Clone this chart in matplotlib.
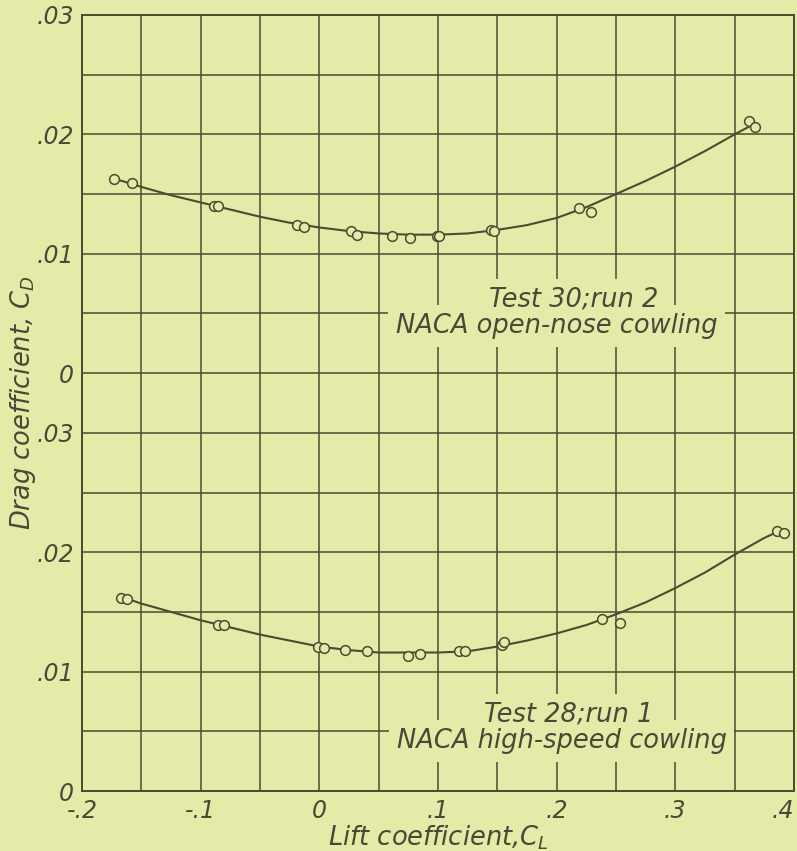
import matplotlib
matplotlib.use("Agg")
import matplotlib.pyplot as plt
import numpy as np

plt.rcParams['font.family'] = ['DejaVu Sans']
plt.rcParams['mathtext.fontset'] = 'dejavusans'

# ---------------- data ----------------
# Test 30; run 2  NACA open-nose cowling (upper panel)
top_cl = [-0.173, -0.158, -0.089, -0.085, -0.019, -0.013, 0.027, 0.032, 0.061,
          0.076, 0.099, 0.101, 0.145, 0.147, 0.219, 0.229, 0.362, 0.367]
top_cd = [0.0163, 0.0159, 0.0140, 0.0140, 0.0124, 0.0122, 0.0119, 0.0116, 0.0115,
          0.0113, 0.0115, 0.0115, 0.0120, 0.0119, 0.0138, 0.0135, 0.0211, 0.0206]
# faired curve
top_curve_cl = [-0.173, -0.15, -0.125, -0.10, -0.075, -0.05, -0.025, 0.0, 0.025, 0.05,
                0.075, 0.10, 0.125, 0.15, 0.175, 0.20, 0.225, 0.25, 0.275, 0.30,
                0.325, 0.35, 0.365]
top_curve_cd = [0.0163, 0.0156, 0.0149, 0.0143, 0.0137, 0.0131, 0.0126, 0.0122, 0.0119, 0.0117,
                0.0116, 0.0116, 0.0117, 0.0120, 0.0124, 0.0130, 0.0139, 0.0150, 0.0161, 0.0173,
                0.0186, 0.0200, 0.0208]

# Test 28; run 1  NACA high-speed cowling (lower panel)
bot_cl = [-0.167, -0.162, -0.085, -0.080, -0.001, 0.004, 0.022, 0.040, 0.075,
          0.085, 0.118, 0.123, 0.154, 0.156, 0.238, 0.253, 0.386, 0.392]
bot_cd = [0.0162, 0.0161, 0.0139, 0.0139, 0.0121, 0.0120, 0.0118, 0.0117, 0.0113,
          0.0115, 0.0117, 0.0117, 0.0122, 0.0125, 0.0144, 0.0141, 0.0218, 0.0216]
bot_curve_cl = [-0.162, -0.15, -0.125, -0.10, -0.075, -0.05, -0.025, 0.0, 0.025, 0.05,
                0.075, 0.10, 0.125, 0.15, 0.175, 0.20, 0.225, 0.25, 0.275, 0.30,
                0.325, 0.35, 0.375, 0.386]
bot_curve_cd = [0.0161, 0.0157, 0.0150, 0.0143, 0.0137, 0.0131, 0.0126, 0.0121, 0.0118, 0.0116,
                0.0116, 0.0116, 0.0117, 0.0121, 0.0126, 0.0132, 0.0139, 0.0148, 0.0158, 0.0170,
                0.0183, 0.0198, 0.0212, 0.0217]

x_tick_vals = [-0.2, -0.1, 0.0, 0.1, 0.2, 0.3, 0.4]
x_tick_labels = ['-.2', '-.1', '0', '.1', '.2', '.3', '.4']
panel_y_vals = [0.0, 0.01, 0.02, 0.03]
panel_y_labels = ['0', '.01', '.02', '.03']

# ---------------- style ----------------
BG = '#e5eaa8'
INK = '#474d30'
TXT = '#464a36'
TOP_OFFSET = 0.035   # upper panel's zero sits at this lower-panel value

fig = plt.figure(figsize=(7.97, 8.51), dpi=100, facecolor=BG)
ax = fig.add_axes([0.1029, 0.0705, 0.8933, 0.9119])
ax.set_facecolor(BG)

ax.set_xlim(-0.2, 0.4)
ax.set_ylim(0.0, 0.065)

ax.set_xticks(x_tick_vals)
ax.set_xticklabels(x_tick_labels)
ax.set_xticks(np.arange(-0.2, 0.4001, 0.05), minor=True)

yt = list(panel_y_vals) + [v + TOP_OFFSET for v in panel_y_vals]
ax.set_yticks(yt)
ax.set_yticklabels(panel_y_labels + panel_y_labels)
ax.set_yticks(np.arange(0.0, 0.0651, 0.005), minor=True)

ax.grid(which='both', color=INK, linewidth=1.1)
ax.set_axisbelow(True)
ax.tick_params(which='both', length=0, labelsize=17, colors=TXT)
ax.tick_params(axis='x', pad=6)
ax.tick_params(axis='y', pad=6)
for lab in ax.get_xticklabels() + ax.get_yticklabels():
    lab.set_fontstyle('italic')
xl = ax.get_xticklabels()
xl[-1].set_horizontalalignment('right')
xl[-1].set_x(0.4)
for sp in ax.spines.values():
    sp.set_color(INK)
    sp.set_linewidth(1.4)

# curves
ax.plot(top_curve_cl, np.array(top_curve_cd) + TOP_OFFSET, color=INK, lw=1.5, zorder=3)
ax.plot(top_cl, np.array(top_cd) + TOP_OFFSET, 'o', ms=7, mfc=BG, mec=INK, mew=1.1, zorder=4)
ax.plot(bot_curve_cl, bot_curve_cd, color=INK, lw=1.5, zorder=3)
ax.plot(bot_cl, bot_cd, 'o', ms=7, mfc=BG, mec=INK, mew=1.1, zorder=4)

# labels: background boxes first (they break the grid), then the text on top
box = dict(boxstyle='square,pad=0.3', fc=BG, ec='none')
base = dict(ha='center', va='center', fontsize=18.5, fontstyle='italic')
labels = [
    (0.1999, 0.00395 + TOP_OFFSET, 'NACA open-nose cowling'),
    (0.2146, 0.00613 + TOP_OFFSET, 'Test 30;run 2'),
    (0.2041, 0.00419, 'NACA high-speed cowling'),
    (0.2100, 0.00637, 'Test 28;run 1'),
]
for x, y, s in labels:
    ax.text(x, y, s, color=(0, 0, 0, 0), bbox=box, zorder=2.5, **base)
for x, y, s in labels:
    ax.text(x, y, s, color=TXT, zorder=5, **base)

ax.set_xlabel(r'Lift coefficient,$\mathit{C}_{\mathit{L}}$', fontsize=18.5,
              fontstyle='italic', color=TXT, labelpad=0)
ax.set_ylabel(r'Drag coefficient, $\mathit{C}_{\mathit{D}}$', fontsize=18.5,
              fontstyle='italic', color=TXT, labelpad=-1)

fig.savefig('out.png', dpi=100, facecolor=BG)
